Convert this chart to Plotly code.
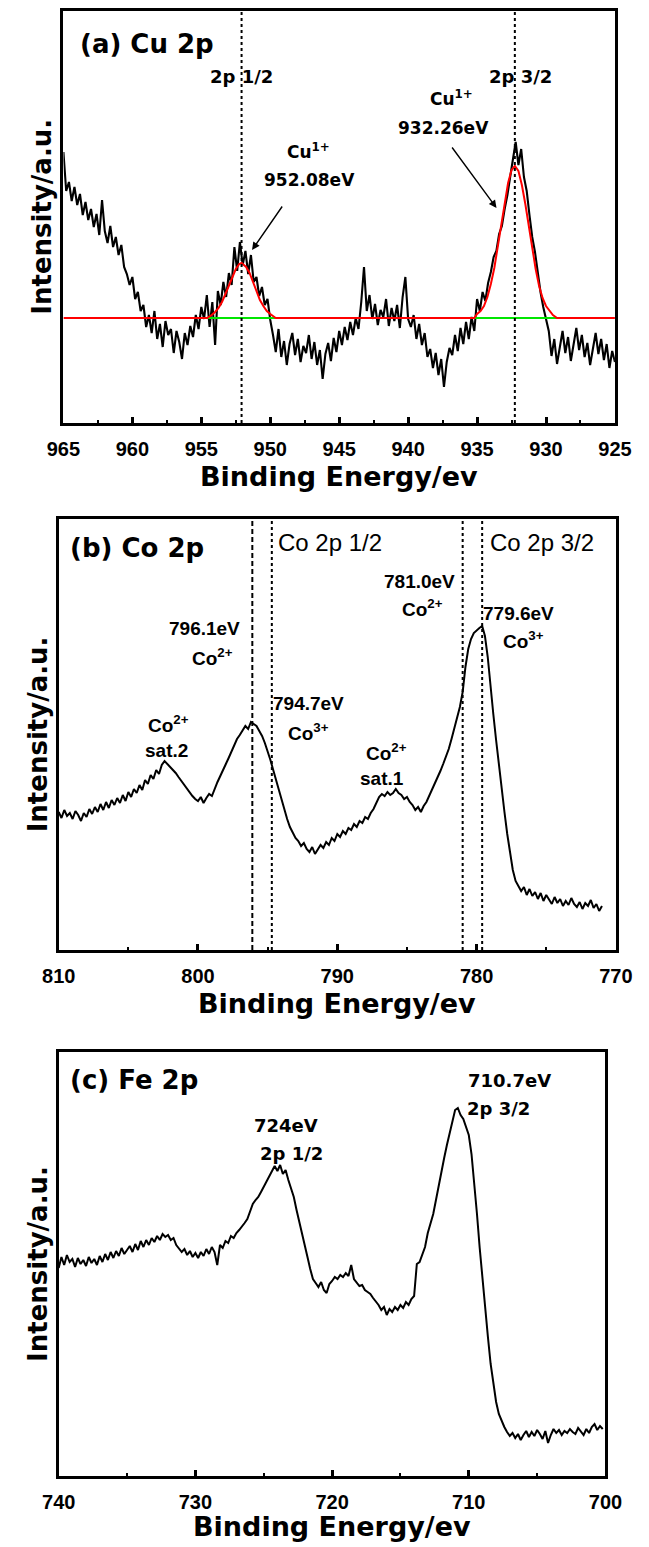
import numpy as np
import plotly.graph_objects as go

# ---------------- Cu 2p (binding energy 965 -> 925 eV, 0.2 eV steps) ----------------
cu_start, cu_end = 965.0, 925.0
cu_counts = [
    271, 232, 241, 222, 236, 218, 229, 208, 221, 203, 214, 196, 209, 188, 223, 192,
    180, 197, 176, 186, 168, 178, 156, 149, 138, 146,
    124, 131, 112, 118, 96, 108, 90, 112, 84, 99, 76, 102, 88, 94, 70, 92, 81, 64,
    90, 78, 97, 86, 108, 94, 116,
    104, 128, 96, 121, 78, 132, 118, 141, 126, 150, 138, 176, 152, 181, 158, 172,
    149, 168, 141, 146, 127, 136, 118, 124, 103,
    88, 71, 94, 66, 82, 58, 79, 90, 68, 84, 61, 77, 70, 88, 64, 81, 58, 73, 44, 69,
    80, 62, 85, 71, 92,
    78, 96, 83, 101, 88, 105, 94, 121, 156, 112, 128, 104, 119, 98, 113, 106, 124,
    97, 115, 102, 118, 95, 126, 146, 104,
    96, 108, 84, 99, 78, 90, 66, 74, 55, 70, 48, 64, 36, 61, 75, 68, 88, 72, 95, 79,
    101, 84, 106, 92, 124,
    112, 131, 122, 140, 151, 166, 172, 189, 197, 214, 228, 246, 262, 281, 258, 274,
    246, 232, 208, 186, 171, 149, 131, 116, 104,
    92, 67, 84, 59, 78, 92, 70, 86, 62, 81, 95, 73, 88, 66, 80, 58, 76, 90, 69, 84,
    63, 79, 55, 72, 61,
]

# Fitted envelope: linear background plus the two Cu(I) components
cu_background = 105
cu_peak_centers = [952.08, 932.26]
cu_peak1_energy = [954.58, 954.25, 954.0, 953.75, 953.5, 953.25, 953.0, 952.75, 952.5,
                   952.25, 952.08, 951.75, 951.5, 951.25, 951.0, 950.75, 950.5, 950.25,
                   950.0, 949.75, 949.6]
cu_peak1_counts = [105, 108, 111, 115, 121, 129, 138, 147, 154, 159, 160, 156, 150, 141,
                   132, 123, 117, 112, 109, 107, 105]
cu_peak2_energy = [935.2, 935.0, 934.75, 934.5, 934.25, 934.0, 933.75, 933.5, 933.25,
                   933.0, 932.75, 932.5, 932.26, 932.0, 931.75, 931.5, 931.25, 931.0,
                   930.75, 930.5, 930.25, 930.0, 929.75, 929.5, 929.2]
cu_peak2_counts = [105, 109, 112, 117, 126, 139, 155, 176, 198, 221, 240, 253, 257, 252,
                   238, 219, 196, 174, 154, 137, 125, 117, 112, 108, 105]

# ---------------- Co 2p (810 -> 771 eV, 0.2 eV steps) ----------------
co_start, co_end = 810.0, 771.0
co_counts = [
    138, 132, 140, 134, 137, 131, 139, 135, 129, 137, 133, 141, 136, 143, 138, 146,
    140, 148, 142, 150, 145, 152, 147, 155, 149, 158, 153, 161, 157, 165, 160, 170,
    166, 175, 171, 180, 176, 185, 189, 186, 184, 180, 177, 173, 169, 166, 161, 158,
    154, 151, 149, 153, 147, 152, 156, 154, 162, 168, 174, 181, 186, 192, 199, 204,
    211, 215, 219, 224, 221, 228, 226, 224, 219, 214, 207, 199, 190, 180, 170, 160,
    150, 140, 131, 123, 117, 112, 109, 104, 107, 101, 98, 103, 96, 100, 105, 102,
    108, 105, 112, 109, 116, 113, 119, 116, 122, 120, 126, 123, 129, 127, 133, 131,
    137, 141, 148, 153, 156, 154, 158, 155, 157, 161, 157, 155, 151, 153, 148, 145,
    140, 143, 138, 144, 148, 154, 161, 166, 172, 179, 186, 193, 201, 211, 221, 232,
    243, 258, 283, 301, 311, 317, 320, 322, 324, 314, 293, 262, 236, 210, 184, 160,
    138, 116, 96, 80, 69, 64, 59, 63, 55, 61, 54, 58, 51, 57, 49, 55, 50, 46, 53, 47,
    51, 44, 49, 45, 52, 46, 43, 48, 41, 47, 44, 50, 42, 46, 39, 44,
]
co_line_energy = [796.1, 794.7, 781.0, 779.6]
co_line_dash = ["5px,3px", "dot", "dot", "dot"]

# ---------------- Fe 2p (740 -> 700.2 eV, 0.2 eV steps) ----------------
fe_start, fe_end = 740.0, 700.2
fe_counts = [
    208, 219, 211, 221, 214, 217, 209, 218, 212, 216, 210, 219, 213, 217, 211, 220,
    214, 222, 216, 224, 218, 225, 220, 228, 222, 226, 230, 224, 232, 226, 235, 229,
    236, 231, 238, 234, 240, 236, 242, 239, 241, 236, 238, 231, 228, 224, 227, 221,
    225, 219, 223, 218, 224, 220, 227, 222, 229, 224, 211, 231, 228, 235, 233, 240,
    238, 243, 246, 249, 253, 257, 264, 272, 276, 279, 284, 289, 295, 299, 304, 310,
    305, 311, 302, 306, 296, 288, 279, 266, 255, 243, 231, 219, 207, 197, 193, 189,
    194, 186, 183, 192, 195, 199, 197, 201, 199, 203, 200, 211, 197, 193, 190, 191,
    186, 184, 182, 178, 175, 171, 166, 169, 161, 167, 164, 169, 166, 171, 168, 174,
    171, 177, 180, 212, 214, 222, 229, 243, 253, 262, 276, 291, 304, 318, 331, 342,
    354, 366, 368, 361, 357, 350, 341, 322, 295, 262, 228, 196, 165, 139, 112, 90,
    74, 62, 55, 49, 44, 40, 43, 38, 42, 36, 41, 45, 39, 44, 40, 46, 42, 37, 45, 33,
    41, 47, 43, 46, 41, 45, 43, 47, 44, 42, 48, 45, 41, 47, 43, 49, 52, 46, 50, 47,
]

cu_energy = np.linspace(cu_start, cu_end, len(cu_counts))
co_energy = np.linspace(co_start, co_end, len(co_counts))
fe_energy = np.linspace(fe_start, fe_end, len(fe_counts))

BOLD_WIDE = "DejaVu Sans"
ARIAL = "Liberation Sans"

fig = go.Figure()

# Cu 2p: raw spectrum (black), background (green), envelope (red)
fig.add_trace(go.Scatter(x=cu_energy, y=cu_counts, mode="lines",
                         line=dict(color="black", width=2.1), xaxis="x", yaxis="y"))
fig.add_trace(go.Scatter(x=[cu_peak1_energy[0], cu_peak1_energy[-1], None,
                            cu_peak2_energy[0], cu_peak2_energy[-1]],
                         y=[cu_background, cu_background, None, cu_background, cu_background],
                         mode="lines", line=dict(color="#00e600", width=2.2),
                         xaxis="x", yaxis="y"))
fig.add_trace(go.Scatter(x=[cu_start] + cu_peak1_energy + cu_peak2_energy + [cu_end],
                         y=[cu_background] + cu_peak1_counts + cu_peak2_counts + [cu_background],
                         mode="lines", line=dict(color="#ff0000", width=2),
                         xaxis="x", yaxis="y"))

fig.add_trace(go.Scatter(x=co_energy, y=co_counts, mode="lines",
                         line=dict(color="black", width=2), xaxis="x2", yaxis="y2"))
fig.add_trace(go.Scatter(x=fe_energy, y=fe_counts, mode="lines",
                         line=dict(color="black", width=2), xaxis="x3", yaxis="y3"))

H = 1547.0
W = 649.0
panels = [
    # plot-box edges in pixels, x range, major/minor tick step, intensity range
    dict(x0=49, x1=631, y0=11, y1=423, xr=[965, 925], dt=5, mdt=2.5, yr=[0, 412]),
    dict(x0=44, x1=632, y0=519, y1=950, xr=[810, 770], dt=10, mdt=5, yr=[0, 431]),
    dict(x0=44, x1=621, y0=1052, y1=1476, xr=[740, 700], dt=10, mdt=5, yr=[0, 424]),
]

layout_axes = {}
for i, p in enumerate(panels):
    sfx = "" if i == 0 else str(i + 1)
    layout_axes["xaxis" + sfx] = dict(
        domain=[p["x0"] / W, p["x1"] / W], range=p["xr"], anchor="y" + sfx,
        showline=True, linewidth=3, linecolor="black", mirror=True,
        ticks="inside", ticklen=6, tickwidth=2.5, tickcolor="black", dtick=p["dt"],
        tick0=0, minor=dict(ticks="inside", ticklen=3, tickwidth=2, dtick=p["mdt"],
                            tickcolor="black"),
        showgrid=False, zeroline=False, ticklabelstandoff=6,
        tickfont=dict(family=ARIAL, size=20, color="black", weight="bold"),
    )
    layout_axes["yaxis" + sfx] = dict(
        domain=[1 - p["y1"] / H, 1 - p["y0"] / H], range=p["yr"], anchor="x" + sfx,
        showline=True, linewidth=3, linecolor="black", mirror=True,
        ticks="", showticklabels=False, showgrid=False, zeroline=False,
    )

annotations = []
shapes = []

def txt(text, x, y, xref, yref, size, family=BOLD_WIDE, weight="bold",
        xanchor="center", yanchor="middle", angle=0):
    annotations.append(dict(text=text, x=x, y=y, xref=xref, yref=yref, showarrow=False,
                            xanchor=xanchor, yanchor=yanchor, textangle=angle,
                            font=dict(family=family, size=size, color="black",
                                      weight=weight)))

# axis titles and panel labels
title_y = [-0.131, -0.123, -0.120]
ytitle_x = [-0.0395, -0.0374, -0.038]
labels = ["(a) Cu 2p", "(b) Co 2p", "(c) Fe 2p"]
label_pos = [(0.026, 0.92), (0.017, 0.933), (0.017, 0.934)]
for i in range(3):
    sfx = "" if i == 0 else str(i + 1)
    txt("Binding Energy/ev", 0.5, title_y[i], "x%s domain" % sfx, "y%s domain" % sfx, 27)
    txt("Intensity/a.u.", ytitle_x[i], 0.5, "x%s domain" % sfx, "y%s domain" % sfx, 26,
        angle=-90)
    txt(labels[i], label_pos[i][0], label_pos[i][1], "x%s domain" % sfx,
        "y%s domain" % sfx, 26, xanchor="left")

# Cu 2p markers
for e in cu_peak_centers:
    shapes.append(dict(type="line", xref="x", yref="y domain", x0=e, x1=e, y0=0, y1=1,
                       line=dict(color="black", width=2, dash="dot")))
txt("2p 1/2", cu_peak_centers[0], 346, "x", "y", 18)
txt("2p 3/2", 931.87, 346, "x", "y", 18)
txt("Cu<sup>1+</sup>", 947.2, 272, "x", "y", 17)
txt("952.08eV", 947.13, 243, "x", "y", 17)
txt("Cu<sup>1+</sup>", 936.82, 325, "x", "y", 17)
txt("932.26eV", 937.44, 295, "x", "y", 17)
for (hx, hy, tx, ty) in [(951.32, 173, 949.06, 218), (933.59, 215, 936.89, 277)]:
    annotations.append(dict(x=hx, y=hy, ax=tx, ay=ty, xref="x", yref="y", axref="x",
                            ayref="y", text="", showarrow=True, arrowhead=2,
                            arrowsize=1.1, arrowwidth=1.4, arrowcolor="black"))

# Co 2p markers
for e, d in zip(co_line_energy, co_line_dash):
    shapes.append(dict(type="line", xref="x2", yref="y2 domain", x0=e, x1=e, y0=0, y1=1,
                       line=dict(color="black", width=2, dash=d)))
txt("Co 2p 1/2", 794.4, 407, "x2", "y2", 24, family=ARIAL, weight="normal",
    xanchor="left")
txt("Co 2p 3/2", 779.18, 407, "x2", "y2", 24, family=ARIAL, weight="normal",
    xanchor="left")
b_labels = [
    ("781.0eV", 784.1, 368), ("Co<sup>2+</sup>", 783.9, 342),
    ("779.6eV", 777.0, 336), ("Co<sup>3+</sup>", 776.63, 310),
    ("796.1eV", 799.52, 321), ("Co<sup>2+</sup>", 798.98, 293),
    ("794.7eV", 792.07, 246), ("Co<sup>3+</sup>", 792.07, 218),
    ("Co<sup>2+</sup>", 802.14, 226), ("sat.2", 802.28, 199),
    ("Co<sup>2+</sup>", 786.5, 198), ("sat.1", 786.77, 171),
]
for t, x, y in b_labels:
    txt(t, x, y, "x2", "y2", 19, family=ARIAL)

# Fe 2p markers
txt("710.7eV", 707.04, 396, "x3", "y3", 18)
txt("2p 3/2", 707.8, 368, "x3", "y3", 18)
txt("724eV", 723.36, 351, "x3", "y3", 18)
txt("2p 1/2", 722.95, 323, "x3", "y3", 18)

fig.update_layout(
    width=649, height=1547, margin=dict(l=0, r=0, t=0, b=0),
    paper_bgcolor="white", plot_bgcolor="white", showlegend=False,
    annotations=annotations, shapes=shapes, hovermode=False,
    font=dict(family=BOLD_WIDE, color="black"),
    **layout_axes,
)

fig.write_html("out.html")
